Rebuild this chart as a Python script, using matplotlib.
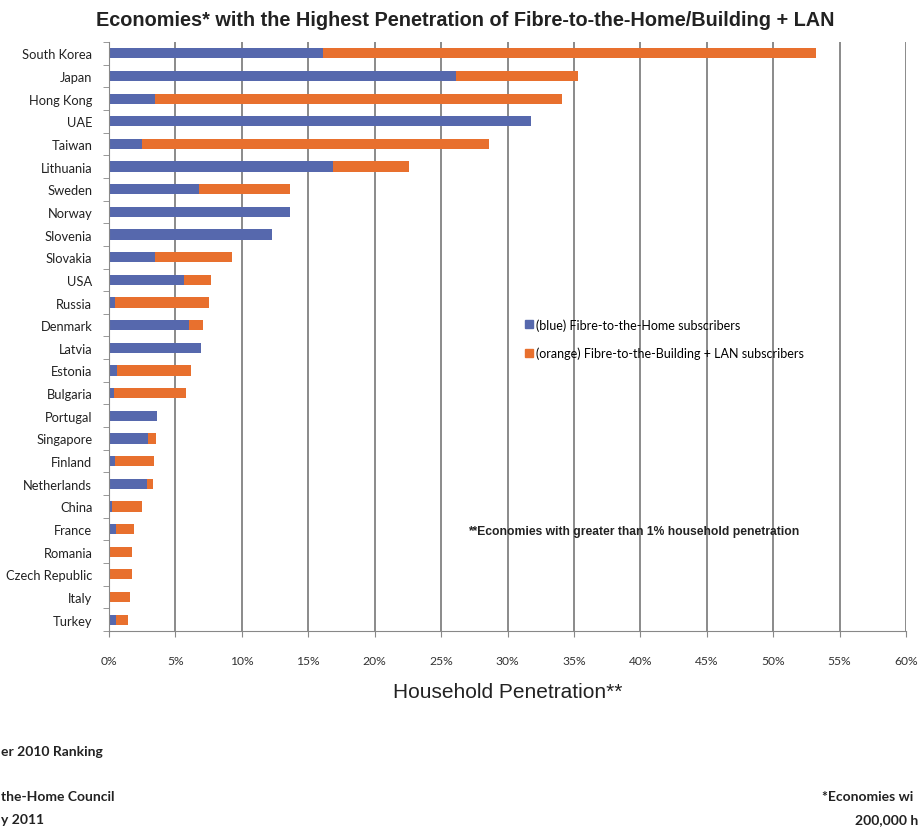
import matplotlib.pyplot as plt
import matplotlib.ticker as mticker
from matplotlib.patches import Patch

countries = ['South Korea', 'Japan', 'Hong Kong', 'UAE', 'Taiwan', 'Lithuania', 'Sweden',
             'Norway', 'Slovenia', 'Slovakia', 'USA', 'Russia', 'Denmark', 'Latvia', 'Estonia',
             'Bulgaria', 'Portugal', 'Singapore', 'Finland', 'Netherlands', 'China', 'France',
             'Romania', 'Czech Republic', 'Italy', 'Turkey']
ftth = [16.1, 26.1, 3.5, 31.8, 2.5, 16.9, 6.8, 13.65, 12.25, 3.5, 5.65, 0.45, 6.0, 6.9, 0.6,
        0.35, 3.65, 2.9, 0.45, 2.85, 0.2, 0.5, 0.05, 0.1, 0.0, 0.5]
total = [53.2, 35.3, 34.1, 31.8, 28.6, 22.6, 13.65, 13.65, 12.25, 9.25, 7.65, 7.5, 7.1, 6.9, 6.2,
         5.8, 3.65, 3.55, 3.4, 3.3, 2.5, 1.9, 1.75, 1.75, 1.6, 1.4]
fttb = [t - h for t, h in zip(total, ftth)]

# cut-off notes at the bottom edge of the original image
notes_left = ['er 2010 Ranking', 'the-Home Council', 'y 2011']
notes_right = ['*Economies wi', '200,000 h']

blue = '#5668ad'
orange = '#e8702e'
arial = ['Liberation Sans', 'DejaVu Sans']
calibri = ['Lato', 'DejaVu Sans']
dark = '#222222'

fig = plt.figure(figsize=(9.2, 8.29), dpi=100)
ax = fig.add_axes([109 / 920, 1 - 632 / 829, 797 / 920, 589 / 829])

y = list(range(len(countries)))
fr = [v / 100 for v in ftth]
br = [v / 100 for v in fttb]
ax.barh(y, fr, height=0.45, color=blue, zorder=2)
ax.barh(y, br, left=fr, height=0.45, color=orange, zorder=2)

ax.set_ylim(len(countries) - 0.5, -0.5)
ax.set_xlim(0, 0.6)
ax.set_xticks([i * 0.05 for i in range(13)])
ax.xaxis.set_major_formatter(mticker.PercentFormatter(1.0, decimals=0))
ax.set_yticks(y)
ax.set_yticklabels(countries, family=calibri, fontsize=9.3, color=dark)
ax.set_yticks([i - 0.5 for i in range(len(countries) + 1)], minor=True)
ax.tick_params(axis='y', which='major', length=0, pad=12)
ax.tick_params(axis='y', which='minor', length=4, color='#888888')
ax.tick_params(axis='x', length=4, color='#888888', labelsize=8.7, pad=13, labelcolor='#333333')
for lab in ax.get_xticklabels():
    lab.set_family(calibri)

ax.grid(axis='x', color='#777777', linewidth=1.2, zorder=1)
ax.set_axisbelow(True)
for s in ['top', 'right']:
    ax.spines[s].set_visible(False)
ax.spines['left'].set_color('#888888')
ax.spines['bottom'].set_color('#888888')

ax.set_xlabel('Household Penetration**', fontsize=15, family=arial, color=dark, labelpad=12)
fig.text(465 / 920, 1 - 21 / 829, 'Economies* with the Highest Penetration of Fibre-to-the-Home/Building + LAN',
         ha='center', va='center', fontsize=14.3, fontweight='bold', family=arial, color=dark)

handles = [Patch(color=blue), Patch(color=orange)]
ax.legend(handles, ['(blue) Fibre-to-the-Home subscribers',
                    '(orange) Fibre-to-the-Building + LAN subscribers'],
          loc='upper left', bbox_to_anchor=(405 / 797, 1 - 265 / 589), frameon=False,
          handlelength=0.6, handleheight=0.6, handletextpad=0.3, labelspacing=1.25,
          prop={'family': calibri, 'size': 9})

fig.text(468 / 920, 1 - 532 / 829, '**Economies with greater than 1% household penetration',
         fontsize=8.7, fontweight='bold', family=arial, color=dark, va='center')

for txt, ypx in zip(notes_left, [752, 797, 820]):
    fig.text(1 / 920, 1 - ypx / 829, txt, ha='left', va='center',
             fontsize=10, fontweight='bold', family=calibri, color=dark)
for txt, xpx, ypx in zip(notes_right, [822, 855], [797, 820]):
    fig.text(xpx / 920, 1 - ypx / 829, txt, ha='left', va='center',
             fontsize=10, fontweight='bold', family=calibri, color=dark)

fig.savefig('out.png', dpi=100)
